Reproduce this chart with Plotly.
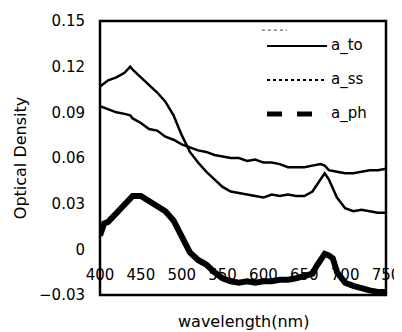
import plotly.graph_objects as go

wavelength = [400, 410, 420, 430, 437, 440, 450, 460, 470, 480, 490, 500, 510, 520, 530, 540,
              550, 560, 570, 580, 590, 600, 610, 620, 630, 640, 650, 660, 670, 675, 680, 690,
              700, 710, 720, 730, 740, 750]
a_to = [0.107, 0.111, 0.113, 0.116, 0.120, 0.118, 0.113, 0.108, 0.103, 0.097, 0.088, 0.075,
        0.064, 0.057, 0.051, 0.046, 0.041, 0.038, 0.037, 0.036, 0.035, 0.034, 0.036, 0.035,
        0.036, 0.035, 0.035, 0.038, 0.046, 0.050, 0.046, 0.034, 0.027, 0.025, 0.026, 0.025,
        0.024, 0.024]
a_ss = [0.094, 0.092, 0.090, 0.089, 0.088, 0.086, 0.083, 0.079, 0.078, 0.074, 0.072, 0.069,
        0.067, 0.065, 0.064, 0.062, 0.061, 0.060, 0.060, 0.058, 0.059, 0.057, 0.057, 0.056,
        0.054, 0.054, 0.054, 0.055, 0.056, 0.055, 0.052, 0.051, 0.050, 0.050, 0.051, 0.052,
        0.052, 0.053]

wl_ph = [400, 405, 410, 420, 430, 440, 450, 460, 470, 480, 490, 500, 510, 520, 530, 540, 550,
         560, 570, 580, 590, 600, 610, 620, 630, 640, 650, 660, 665, 670, 675, 680, 685, 690,
         700, 710, 720, 730, 740, 750]
a_ph = [0.009, 0.017, 0.018, 0.024, 0.029, 0.035, 0.035, 0.032, 0.029, 0.025, 0.019, 0.008,
        -0.002, -0.007, -0.010, -0.015, -0.019, -0.021, -0.022, -0.021, -0.022, -0.021, -0.021,
        -0.020, -0.020, -0.019, -0.018, -0.016, -0.011, -0.006, -0.003, -0.004, -0.006, -0.015,
        -0.022, -0.024, -0.025, -0.027, -0.028, -0.028]

x_ticks = [400, 450, 500, 550, 600, 650, 700, 750]
y_ticks = [-0.03, 0, 0.03, 0.06, 0.09, 0.12, 0.15]
y_ticktext = ["\u22120.03", "0", "0.03", "0.06", "0.09", "0.12", "0.15"]
legend_names = ["a_to", "a_ss", "a_ph"]

fig = go.Figure()
fig.add_trace(go.Scatter(x=wavelength, y=a_to, mode="lines", name="a_to",
                         line=dict(color="black", width=2.5)))
fig.add_trace(go.Scatter(x=wavelength, y=a_ss, mode="lines", name="a_ss",
                         line=dict(color="black", width=2.5)))
fig.add_trace(go.Scatter(x=wl_ph, y=a_ph, mode="lines", name="a_ph",
                         line=dict(color="black", width=6)))

font = "DejaVu Sans"
fig.update_layout(
    width=394, height=324,
    margin=dict(l=92, r=16, t=13, b=37, autoexpand=False),
    paper_bgcolor="white", plot_bgcolor="white",
    showlegend=False,
    font=dict(family=font, color="black", size=15),
    xaxis=dict(range=[400, 750], tickvals=x_ticks, showgrid=False, zeroline=False,
               showline=False, ticks="", anchor="free", position=0.113, automargin=False,
               tickfont=dict(size=15, family=font)),
    yaxis=dict(range=[-0.03, 0.15], tickvals=y_ticks, ticktext=y_ticktext, showgrid=False,
               zeroline=False, showline=False, ticks="", ticklabelstandoff=14, automargin=False,
               tickfont=dict(size=15, family=font),
               title=dict(text="Optical Density", font=dict(size=16, family=font), standoff=8)),
)

# x-axis title (kept below the frame)
fig.add_annotation(x=0.5, y=-0.0985, xref="paper", yref="paper", text="wavelength(nm)",
                   showarrow=False, xanchor="center", yanchor="middle",
                   font=dict(size=16, family=font))

# frame
fig.add_shape(type="rect", xref="paper", yref="paper", x0=0, x1=1, y0=0, y1=1,
              line=dict(color="black", width=2.5))

# legend drawn inside the plot
leg_y = [0.909, 0.785, 0.661]
styles = [dict(width=2, dash="solid"), dict(width=2, dash="dot"), dict(width=5, dash="dash")]
for name, yy, st in zip(legend_names, leg_y, styles):
    fig.add_shape(type="line", xref="paper", yref="paper", x0=0.584, x1=0.794, y0=yy, y1=yy,
                  line=dict(color="black", **st))
    fig.add_annotation(x=0.80, y=yy, xref="paper", yref="paper", text=name, showarrow=False,
                       xanchor="left", yanchor="middle", font=dict(size=15, family=font))
fig.add_shape(type="line", xref="paper", yref="paper", x0=0.566, x1=0.654, y0=0.967, y1=0.967,
              line=dict(color="#666", width=1.2, dash="dot"))

fig.write_html("out.html")
